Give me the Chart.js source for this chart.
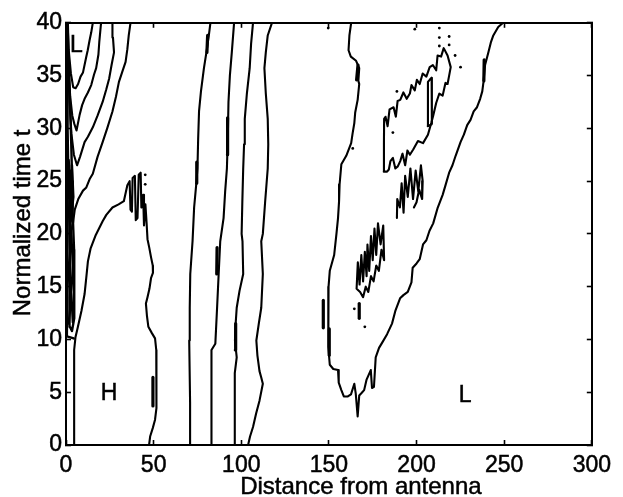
<!DOCTYPE html>
<html>
<head>
<meta charset="utf-8">
<title>Normalized time vs distance from antenna</title>
<script src="https://cdn.jsdelivr.net/npm/chart.js@4.4.1/dist/chart.umd.min.js"></script>
<style>
  body { margin: 0; background: #fff; }
  canvas { display: block; }
</style>
</head>
<body>
<canvas id="contourChart" width="623" height="497"></canvas>
<script>
// axis ticks
const xTicks = [0, 50, 100, 150, 200, 250, 300];
const yTicks = [0, 5, 10, 15, 20, 25, 30, 35, 40];

// contour lines, [distance, t] pairs
// dense band hugging the antenna
const edgeOuter = [[0.4,40],[0.6,35],[0.9,30],[1.2,27],[1.0,23],[0.8,19],[0.6,15],[0.5,10.3],[2.5,10.2],[4.4,10.1]];
const edgeInner = [[1.0,40],[1.6,36],[2.4,32],[3.0,28.5],[3.5,25],[3.8,22],[4.6,18.5],[4.8,15],[4.6,12],[3.4,10.8],[2.2,11.2],[2.0,14],[2.4,17],[2.0,20],[2.4,23],[2.0,26]];
const edgeZig = [[1.5,27],[2.8,24.5],[1.6,22],[3.0,19.5],[1.4,16.5],[2.8,13.5],[1.5,11.5]];
const edgeZig2 = [[3.4,26.5],[4.2,23.5],[2.6,21],[4.0,17],[3.0,14.5],[3.9,11.6]];

// the three V shaped contours near the top left
const leftV1 = [[0.9,40],[1.5,37.5],[2.8,35.2],[4.1,33.9],[5.5,33.8],[6.9,34.2],[8.3,34.9],[9.7,35.3],[11.6,36.8],[12.4,37.4],[13.4,38.3],[14.4,39.1],[15.3,40]];
const leftV2 = [[0.6,40],[1.4,36],[2.4,33],[3.6,31.2],[4.8,30.4],[6.0,29.8],[7.8,31.3],[9.2,32.2],[10.6,32.8],[12.5,33.4],[14.4,34.1],[16,35.1],[17.2,35.7],[18.5,37],[19.0,38.2],[20,40]];
const leftV3 = [[0.3,40],[1.1,36],[2.0,32.5],[3.1,29.5],[4.5,27.5],[6.3,26.5],[8,27.3],[10.6,28.7],[12.5,29.2],[15.3,30.1],[18,31.2],[20.9,32.5],[23,33.7],[24.6,34.7],[26,36],[27.4,37.2],[26.8,38.6],[26.5,40]];
const leftFan = [[3.6,20.5],[5.0,22.3],[7,23.3],[9.7,24.1],[11.6,24.4],[13.5,25.2],[15.3,25.7],[18,27.3],[20.9,28.7],[23.5,30],[26.5,31.6],[28.5,33],[30.2,34.4],[32,35.3],[34,36.3],[35,37.5],[35.8,38.8],[36.8,40]];

// the high region around the antenna
const bumpH = [[4.6,0],[4.6,5],[4.7,9],[5.4,10.2],[6.8,11.2],[8.8,12.7],[10.6,14.3],[11.6,15.9],[12.5,17.4],[14,18.6],[17,19.9],[20.9,21.2],[23,21.8],[26.5,22.5],[30,22.8],[33,23.1],[35,24.6],[36.3,25],[36.8,22.3],[37.6,22.1],[38,25.3],[39.3,25.5],[39.8,21.3],[40.8,21.5],[41.5,25.6],[42.6,25.8],[43,22.5],[44,23.7],[44.5,20.8],[45.3,22.8],[46,21],[46.5,19.5],[47.5,18.7],[48.5,17.8],[49.5,17],[49.6,16.3],[48.5,15.8],[47.6,14.8],[46.5,14],[45.6,13.4],[46.2,12.2],[47,11.2],[49,10.6],[50.8,10.1],[51.5,9],[51.7,8],[51.7,4.9],[51.4,3.5],[50.8,2.4],[49.5,1.6],[48,0.8],[47.4,0]];

// near vertical contours between 70 and 120
const bandA = [[71.3,0],[70.8,4],[70.3,9.9],[70.6,13],[70.9,16.2],[72.2,19.3],[73.1,22.5],[74.2,24.5],[75,26.2],[75.4,29],[75.9,31.6],[77,33.5],[78.7,35.7],[80.4,37.5],[81.5,38.8],[82.4,40]];
const bandB = [[83,0],[83,5],[83,9],[85.2,9.6],[86.2,13],[87.1,16.2],[88,19.3],[89.9,21.5],[90.8,24],[91.8,26.2],[92.3,29],[92.7,32.5],[93.5,35],[94.6,37.2],[95.9,40]];
const bandC = [[95.9,0],[96.2,3],[96.4,6.8],[97.4,8.3],[96.4,9.9],[96.8,11.5],[97.4,13],[99,14.6],[101.1,16.2],[100.7,19.3],[100.2,20],[100.6,23],[101.1,26.2],[101.6,28.5],[102,30.9],[103.2,33.3],[104.8,35.7],[105.6,38],[106.7,40]];
const bandD = [[103.9,0],[105,0.8],[106.7,1.7],[108.5,3],[110.4,4.2],[112.3,5.8],[111.4,6.4],[110.4,7],[109.2,8.5],[108.6,9.9],[110,11.5],[111.4,13],[112.3,16.2],[111.4,19.3],[112.3,20],[113.6,23],[115.1,26.2],[115.4,28.5],[115.1,30.9],[114,33.3],[113.2,35.7],[114,37.2],[115.1,38.8],[117.5,40]];

// boundary of the low region on the right
const lowBoundary = [[162.7,40],[161.7,38.8],[161.2,37.4],[162.5,36.8],[165.5,36.4],[167.3,35.7],[166.8,34.5],[167.3,34.2],[166.4,32.7],[165,31.5],[164.5,30.5],[163.5,29.5],[162.7,28.6],[159.9,27.4],[157.1,26.6],[156.1,24.7],[155.8,23.1],[155.2,21.5],[154.3,20],[153,18],[150.5,16.5],[149.8,15],[149.6,14],[149.6,13],[149.8,11],[149.6,9.3],[150.5,7.6],[152.5,7.2],[155.2,7.1],[155.6,5.9],[157.1,5.2],[158.5,4.6],[160.8,4.6],[162.6,4.8],[164.5,5.8],[165.3,4.9],[166.4,2.7],[167.3,4.7],[168.5,4.9],[170.1,5.2],[171.5,6.2],[173.9,7.1],[174.6,5.4],[175.7,5.5],[176.7,8.3],[178.6,9.2],[180.4,9.7],[183.2,10.5],[186,11.5],[187.9,12.7],[190.6,13.9],[192.5,14.2],[195,14.5],[197.1,15.4],[197.8,16.8],[200,17.2],[201.8,17.6],[203.7,19],[205.6,19.4],[207.4,20.3],[209.5,21],[212.1,22.5],[214.9,23.7],[216.5,24.6],[218.6,25.8],[220.5,26.5],[222.3,27.4],[225.1,28.7],[227,29.4],[228.9,30.3],[230.8,30.8],[232.6,31.6],[234.5,32],[236.3,32.8],[237.5,33.5],[238.2,34.4],[239.1,36],[241,37.2],[242.5,38.2],[243.8,38.8],[246.6,39.6],[249.4,40]];

// noisy closed contours inside the low region
const innerLoop = [[181.3,25.9],[181.4,28.5],[181.5,30.9],[182.3,31.1],[183.5,30.2],[184.6,31.8],[186.9,32],[188.2,31.1],[189.2,32.6],[190.7,32.7],[192.5,33.4],[194.4,32.8],[196.2,33.3],[197.1,34.1],[199,33.6],[200.2,34.6],[201.8,34.2],[203.5,35.2],[205.6,34.9],[207.5,35.8],[209.3,36],[211.2,35.5],[212,36.9],[214,36.8],[215.5,37.6],[217.7,36.9],[219.5,35.8],[218.6,35],[217.7,34.2],[216.5,34.3],[214.9,33.1],[213,33.3],[211.2,32.4],[209.5,31.2],[208.4,30.5],[206.5,29.4],[203.7,28.6],[200.8,28.8],[198.1,28],[196.2,27.5],[194.8,27.9],[193.5,26.5],[192,27.6],[190.7,26.9],[189.3,26.4],[187.9,26.2],[186.5,27.2],[185.1,26.9],[184.2,26.1],[183.2,25.9],[181.3,25.9]];
const narrowLoop = [[206.4,30.2],[206.5,34.4],[207.5,34.6],[208.6,34.8],[208.8,32],[208.7,30.4],[206.4,30.2]];
const loopA = [[165.8,14.8],[166.5,17.3],[167.5,15.2],[168.5,18],[169.5,15.5],[170.5,18.3],[171.5,16],[172,19],[173,16.5],[174,19.8],[175,17.5],[176,20.5],[177,18],[178,21],[179.5,19],[181,20.8],[181.5,17.5],[180,18.5],[178.5,16.5],[177,17],[175.5,15.5],[174,16],[172.5,14.5],[171,15],[169.5,14],[167.8,14.5],[165.8,14.8]];
const loopB = [[188.8,21.5],[189,23.3],[190.5,22.5],[191.5,24.8],[192.6,22],[193.5,25.5],[195,23.5],[196.5,26.2],[198,23.3],[199.5,26],[201,24],[202.5,26.5],[203.5,25],[203.2,23.3],[201.5,24.2],[200,23],[198.5,22.5]];

// short heavy strokes where lines bunch up
const heavyBits = [
  [[49.6,3.7],[49.6,6.4]],
  [[92.1,27.5],[92.2,31]],
  [[86.0,16.2],[86.2,18.7]],
  [[96.6,9],[96.8,11.5]],
  [[80.4,37.2],[80.8,38.8]],
  [[74.5,24.8],[74.6,26.8]],
  [[146.8,11.1],[146.8,13.7]],
  [[150.2,8.5],[150.2,11]],
  [[167.3,12],[167.3,13.4]],
  [[165.8,34.6],[166.6,36]],
  [[238.4,34.5],[238.6,36.5]]
];
const specks = [[149.6,39.5],[199,39.4],[213,39.5],[213,38.6],[213,37.8],[218.6,38.7],[218.6,37.9],[225.1,35.8],[188.8,33.5],[163.6,28.1],[164.5,12.9],[186.5,29.6],[45.2,25.6],[45.2,24.7],[170.5,11.2],[222,36.9]];

// region markers
const regionLabels = [
  { text: 'L', x: 6, y: 37.8 },
  { text: 'H', x: 24.6, y: 4.9 },
  { text: 'L', x: 227.8, y: 4.7 }
];

const FONT = '"Liberation Sans", Arial, Helvetica, sans-serif';

function lineSet(points, width) {
  return {
    data: points.map(p => ({ x: p[0], y: p[1] })),
    showLine: true,
    borderColor: '#000',
    backgroundColor: '#000',
    borderWidth: width,
    borderJoinStyle: 'round',
    borderCapStyle: 'round',
    pointRadius: 0,
    fill: false,
    tension: 0
  };
}

const contours = [leftV1, leftV2, leftV3, leftFan, bumpH,
  bandA, bandB, bandC, bandD, lowBoundary, innerLoop, narrowLoop, loopA, loopB];

const datasets = contours.map(c => lineSet(c, 2.1));
[edgeOuter, edgeInner, edgeZig, edgeZig2].forEach(c => datasets.push(lineSet(c, 2.4)));
heavyBits.forEach(b => datasets.push(lineSet(b, 3.2)));
datasets.push({
  data: specks.map(p => ({ x: p[0], y: p[1] })),
  showLine: false,
  pointRadius: 1.4,
  pointBorderWidth: 0,
  pointBackgroundColor: '#000'
});

// labels for regions and both axis titles
function heavyText(ctx, text, x, y) {
  ctx.fillText(text, x, y);
  ctx.strokeText(text, x, y);
}

const textPlugin = {
  id: 'plotText',
  afterDraw(chart) {
    const ctx = chart.ctx;
    const area = chart.chartArea;
    const sx = chart.scales.x, sy = chart.scales.y;
    ctx.save();
    ctx.fillStyle = '#000';
    ctx.strokeStyle = '#000';
    ctx.lineWidth = 0.5;
    ctx.font = '23px ' + FONT;
    ctx.textAlign = 'center';
    ctx.textBaseline = 'middle';
    regionLabels.forEach(l => {
      heavyText(ctx, l.text, sx.getPixelForValue(l.x), sy.getPixelForValue(l.y));
    });

    ctx.font = '24px ' + FONT;
    ctx.textBaseline = 'alphabetic';
    heavyText(ctx, 'Distance from antenna', (area.left + area.right) / 2 + 32, chart.height - 3);

    ctx.translate(30, (area.top + area.bottom) / 2 - 11);
    ctx.rotate(-Math.PI / 2);
    heavyText(ctx, 'Normalized time t', 0, 0);
    ctx.restore();
  }
};

function boxAxis(axis, position, ticks, showLabels, size) {
  return {
    type: 'linear',
    axis: axis,
    position: position,
    min: ticks[0],
    max: ticks[ticks.length - 1],
    afterBuildTicks: s => { s.ticks = ticks.map(v => ({ value: v })); },
    afterFit: s => {
      if (axis === 'x') s.height = size; else s.width = size;
    },
    border: { display: true, color: '#000', width: 2 },
    grid: {
      drawOnChartArea: false,
      drawTicks: true,
      tickLength: -5,
      tickWidth: 1.6,
      tickColor: '#000',
      color: '#000'
    },
    ticks: {
      display: showLabels,
      color: '#000',
      textStrokeColor: '#000',
      textStrokeWidth: 0.5,
      padding: axis === 'x' ? 12 : 9,
      font: { family: FONT, size: 23 }
    }
  };
}

new Chart(document.getElementById('contourChart'), {
  type: 'scatter',
  data: { datasets: datasets },
  options: {
    responsive: false,
    animation: false,
    devicePixelRatio: 1,
    events: [],
    layout: { padding: 0 },
    plugins: {
      legend: { display: false },
      tooltip: { enabled: false }
    },
    scales: {
      x: boxAxis('x', 'bottom', xTicks, true, 52),
      y: boxAxis('y', 'left', yTicks, true, 66),
      x2: boxAxis('x', 'top', xTicks, false, 20),
      y2: boxAxis('y', 'right', yTicks, false, 21)
    }
  },
  plugins: [textPlugin]
});
</script>
</body>
</html>
